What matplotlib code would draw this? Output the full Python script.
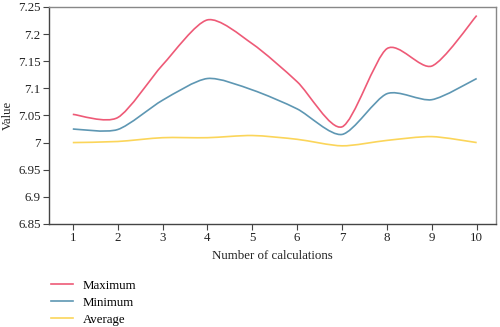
import numpy as np
import matplotlib
matplotlib.use("Agg")
import matplotlib.pyplot as plt
from matplotlib.path import Path
from matplotlib.patches import PathPatch
from matplotlib.lines import Line2D

x = [1, 2, 3, 4, 5, 6, 7, 8, 9, 10]
maximum = [7.052, 7.046, 7.143, 7.226, 7.182, 7.112, 7.029, 7.173, 7.141, 7.234]
minimum = [7.025, 7.024, 7.078, 7.118, 7.097, 7.062, 7.015, 7.090, 7.079, 7.118]
average = [7.000, 7.002, 7.009, 7.009, 7.013, 7.006, 6.994, 7.004, 7.011, 7.000]
series = [("Maximum", maximum, "#EE5A77"),
          ("Minimum", minimum, "#5E97B3"),
          ("Average", average, "#FBD55A")]
yticks = [6.85, 6.9, 6.95, 7, 7.05, 7.1, 7.15, 7.2, 7.25]
ytick_labels = ["6.85", "6.9", "6.95", "7", "7.05", "7.1", "7.15", "7.2", "7.25"]

plt.rcParams['font.family'] = ['Liberation Serif', 'DejaVu Serif']
FS = 9.3

fig = plt.figure(figsize=(5.0, 3.27), dpi=100)
ax = fig.add_axes([0.098, 0.315, 0.894, 0.664])


def smooth_path(xs, ys, t=0.13):
    xs = np.asarray(xs, float)
    ys = np.asarray(ys, float)
    n = len(xs)
    verts = [(xs[0], ys[0])]
    codes = [Path.MOVETO]
    for i in range(n - 1):
        p0 = (xs[max(i - 1, 0)], ys[max(i - 1, 0)])
        p1 = (xs[i], ys[i])
        p2 = (xs[i + 1], ys[i + 1])
        p3 = (xs[min(i + 2, n - 1)], ys[min(i + 2, n - 1)])
        c1 = (p1[0] + (p2[0] - p0[0]) * t, p1[1] + (p2[1] - p0[1]) * t)
        c2 = (p2[0] - (p3[0] - p1[0]) * t, p2[1] - (p3[1] - p1[1]) * t)
        verts += [c1, c2, p2]
        codes += [Path.CURVE4] * 3
    return Path(verts, codes)


handles = []
for name, ys, col in series:
    ax.add_patch(PathPatch(smooth_path(x, ys), facecolor="none", edgecolor=col, lw=1.2))
    handles.append(Line2D([], [], color=col, lw=1.2, label=name))

ax.set_xlim(0.47, 10.43)
ax.set_ylim(6.85, 7.25)
ax.set_xticks(x)
ax.set_yticks(yticks)
ax.set_yticklabels(ytick_labels)
ax.tick_params(labelsize=FS, length=4.5, width=0.8, color="#444444", labelcolor="#222222", pad=1.5)
for s in ["left", "bottom"]:
    ax.spines[s].set_color("#444444")
    ax.spines[s].set_linewidth(1.0)
for s in ["top", "right"]:
    ax.spines[s].set_color("#888888")
    ax.spines[s].set_linewidth(1.0)

ax.set_xlabel("Number of calculations", fontsize=FS, color="#222222", labelpad=4)
ax.set_ylabel("Value", fontsize=FS, color="#222222", labelpad=3)

fig.legend(handles=handles, loc="upper left", bbox_to_anchor=(0.092, 0.16),
           frameon=False, fontsize=FS, handlelength=1.7, handletextpad=0.75,
           labelspacing=0.38, borderaxespad=0)

fig.savefig("out.png", dpi=100)
